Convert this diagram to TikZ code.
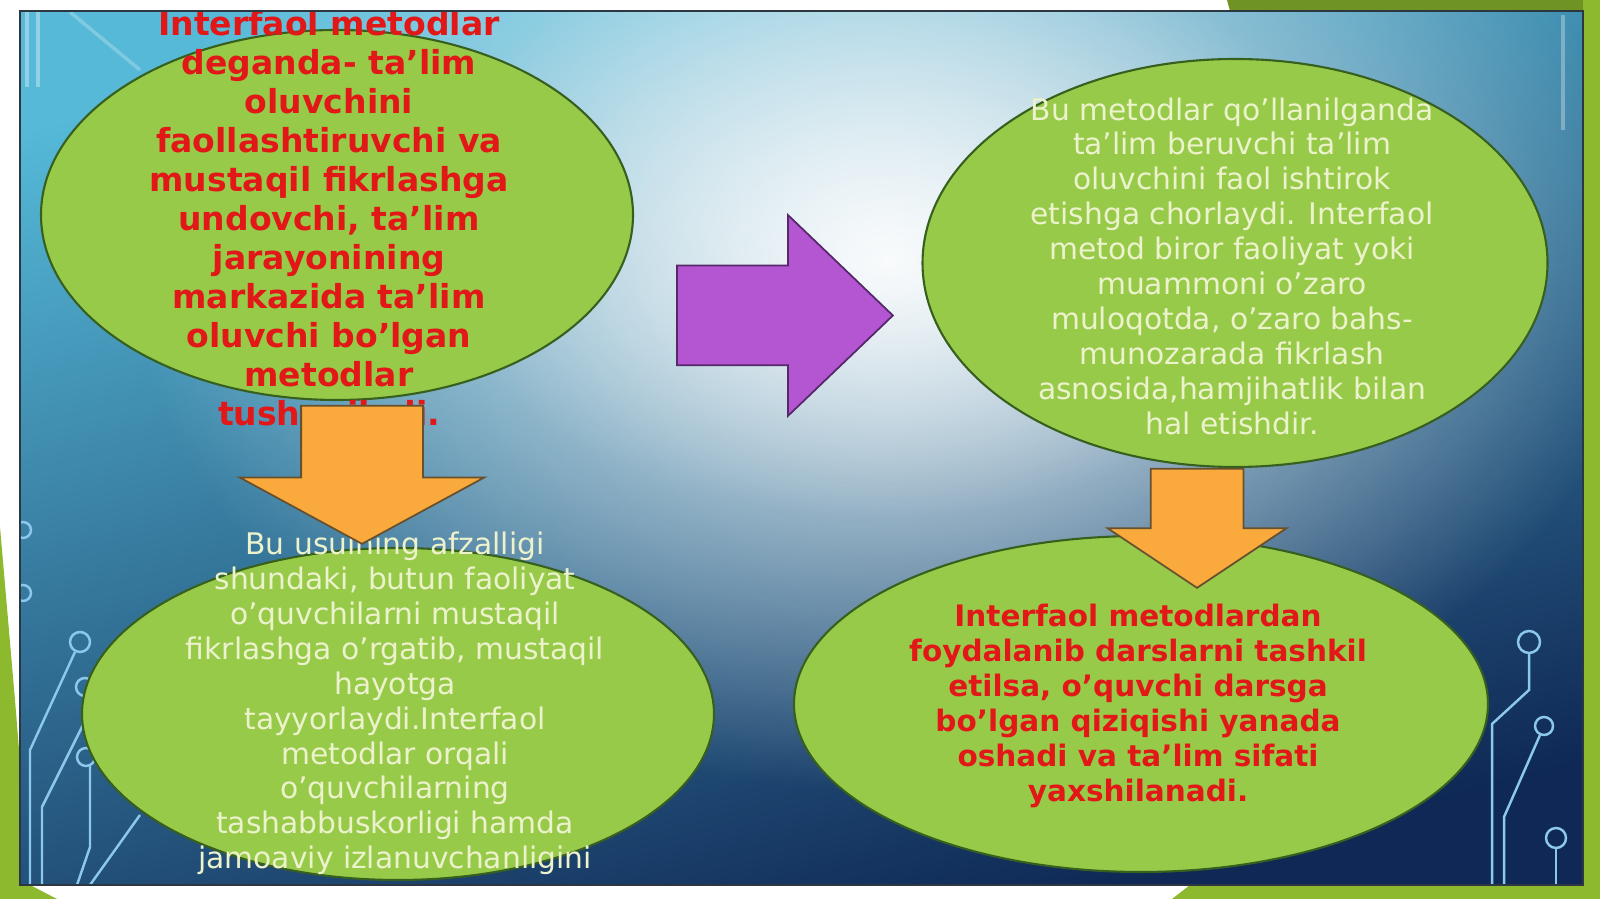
\documentclass[tikz,border=0pt]{standalone}
\usepackage{fontspec}
\setmainfont{DejaVu Sans}
\usepackage{tikz}
\usetikzlibrary{shapes.geometric,shapes.arrows,fadings,positioning}

\definecolor{bubblegreen}{RGB}{152,202,74}
\definecolor{bubbleedge}{RGB}{55,95,30}
\definecolor{arroworange}{RGB}{250,170,60}
\definecolor{orangeedge}{RGB}{105,80,45}
\definecolor{arrowviolet}{RGB}{180,85,210}
\definecolor{violetedge}{RGB}{85,40,105}
\definecolor{textred}{RGB}{226,24,24}
\definecolor{textpale}{RGB}{236,242,204}
\definecolor{slidetop}{RGB}{85,185,215}
\definecolor{slidemid}{RGB}{45,115,165}
\definecolor{slidebot}{RGB}{15,40,85}
\definecolor{framegreen}{RGB}{140,185,45}
\definecolor{circuit}{RGB}{140,200,235}
\definecolor{frameline}{RGB}{45,55,65}

\tikzfading[name=glowfade, inner color=transparent!0, outer color=transparent!100]

\newcommand{\redfont}{\fontsize{9.4pt}{11.1pt}\selectfont\bfseries}
\newcommand{\palefont}{\fontsize{8.46pt}{9.93pt}\selectfont}

\begin{document}
\begin{tikzpicture}
	\tikzstyle{bubble}=[ellipse,draw=bubbleedge,fill=bubblegreen,line width=0.6pt,inner sep=0pt]
	\tikzstyle{redtext}=[textred,align=center,inner sep=0pt]
	\tikzstyle{paletext}=[textpale,align=center,inner sep=0pt]
	\tikzstyle{blockarrow}=[single arrow,line width=0.5pt,inner xsep=0pt,single arrow head indent=0pt,anchor=tail]
	\tikzstyle{trace}=[circuit,line width=0.7pt]
	
	\useasboundingbox (0,0) rectangle (16,-8.99);
	
	%
	% page and green frame
	%
	\fill [white] (0,0) rectangle (16,-8.99);
	\fill [framegreen] (0,-5.27) -- (0.15,-7.0) -- (0.30,-8.85) -- (0.57,-8.99) -- (0,-8.99) -- cycle;
	\fill [framegreen] (11.72,-8.99) -- (11.9,-8.85) -- (16,-8.85) -- (16,-8.99) -- cycle;
	\fill [framegreen!80!black] (12.27,0) -- (16,0) -- (16,-0.11) -- (12.3,-0.11) -- cycle;
	\fill [framegreen] (15.83,0) rectangle (16,-8.99);
	
	%
	% slide panel
	%
	\begin{scope}
		\clip (0.20,-0.11) rectangle (15.83,-8.85);
		\shade [top color=slidetop,middle color=slidemid,bottom color=slidebot,shading angle=15]
			(0.20,-0.11) rectangle (15.83,-8.85);
		\fill [white,path fading=glowfade,opacity=0.95] (8.9,-2.6) ellipse (7.6 and 5.3);
		\fill [white,path fading=glowfade,opacity=0.5] (8.8,-2.2) ellipse (4.6 and 3.0);
		
		% faint streaks
		\draw [white,opacity=0.35,line width=1pt] (0.27,-0.12) -- (0.27,-0.87);
		\draw [white,opacity=0.35,line width=1pt] (0.38,-0.12) -- (0.38,-0.87);
		\draw [white,opacity=0.25,line width=1pt] (0.70,-0.12) -- (1.40,-0.70);
		\draw [white,opacity=0.3,line width=1pt] (15.63,-0.15) -- (15.63,-1.30);
		
		%
		% circuit traces
		%
		\draw [trace] (0.23,-5.30) circle (0.08);
		\draw [trace] (0.23,-5.93) circle (0.08);
		\draw [trace] (0.30,-8.85) -- (0.30,-7.50) -- (0.75,-6.52);
		\draw [trace] (0.80,-6.42) circle (0.10);
		\draw [trace] (0.42,-8.85) -- (0.42,-8.07) -- (0.88,-7.15);
		\draw [trace] (0.85,-6.87) circle (0.09);
		\draw [trace] (0.77,-8.85) -- (0.90,-8.47) -- (0.90,-7.66);
		\draw [trace] (0.86,-7.57) circle (0.09);
		\draw [trace] (0.90,-8.85) -- (1.40,-8.15);
		
		\draw [trace] (15.29,-6.42) circle (0.11);
		\draw [trace] (15.29,-6.53) -- (15.29,-6.90) -- (14.92,-7.24) -- (14.92,-8.85);
		\draw [trace] (15.44,-7.26) circle (0.09);
		\draw [trace] (15.40,-7.35) -- (15.04,-8.17) -- (15.04,-8.85);
		\draw [trace] (15.56,-8.38) circle (0.10);
		\draw [trace] (15.56,-8.48) -- (15.56,-8.85);
		
		%
		% bubbles
		%
		\node [bubble,minimum width=5.92cm,minimum height=3.70cm] (def) at (3.37,-2.15) {};
		\node [bubble,minimum width=6.25cm,minimum height=4.08cm] (use) at (12.35,-2.63) {};
		\node [bubble,minimum width=6.32cm,minimum height=3.32cm] (gain) at (3.98,-7.14) {};
		\node [bubble,minimum width=6.94cm,minimum height=3.36cm] (result) at (11.41,-7.04) {};
		
		%
		% bubble texts
		%
		\node [redtext,font=\redfont] (def-text) at (3.29,-2.18)
			{Interfaol metodlar\\deganda- ta’lim\\oluvchini\\faollashtiruvchi va\\mustaqil fikrlashga\\undovchi, ta’lim\\jarayonining\\markazida ta’lim\\oluvchi bo’lgan\\metodlar\\tushuniladi.};
		\node [paletext,font=\palefont] (use-text) at (12.32,-2.66)
			{Bu metodlar qo'llanilganda\\ta'lim beruvchi ta'lim\\oluvchini faol ishtirok\\etishga chorlaydi. Interfaol\\metod biror faoliyat yoki\\muammoni o'zaro\\muloqotda, o'zaro bahs-\\munozarada fikrlash\\asnosida,hamjihatlik bilan\\hal etishdir.};
		\node [paletext,font=\palefont] (gain-text) at (3.95,-7.035)
			{Bu usulning afzalligi\\shundaki, butun faoliyat\\o'quvchilarni mustaqil\\fikrlashga o'rgatib, mustaqil\\hayotga\\tayyorlaydi.Interfaol\\metodlar orqali\\o'quvchilarning\\tashabbuskorligi hamda\\jamoaviy izlanuvchanligini};
		\node [redtext,font=\fontsize{8.4pt}{9.93pt}\selectfont\bfseries] (result-text) at (11.38,-7.06)
			{Interfaol metodlardan\\foydalanib darslarni tashkil\\etilsa, o’quvchi darsga\\bo’lgan qiziqishi yanada\\oshadi va ta’lim sifati\\yaxshilanadi.};
		
		%
		% block arrows
		%
		\node [blockarrow,draw=violetedge,fill=arrowviolet,inner ysep=0.49cm,minimum height=2.16cm,
			single arrow head extend=0.505cm,single arrow tip angle=87.5] (to-use) at (6.76,-3.155) {};
		\node [blockarrow,draw=orangeedge,fill=arroworange,rotate=-90,inner ysep=0.60cm,minimum height=1.38cm,
			single arrow head extend=0.615cm,single arrow tip angle=123] (to-gain) at (3.62,-4.05) {};
		\node [blockarrow,draw=orangeedge,fill=arroworange,rotate=-90,inner ysep=0.455cm,minimum height=1.19cm,
			single arrow head extend=0.43cm,single arrow tip angle=112.6] (to-result) at (11.97,-4.68) {};
	\end{scope}
	
	\draw [frameline,line width=0.6pt] (0.20,-0.11) rectangle (15.83,-8.85);
\end{tikzpicture}
\end{document}
